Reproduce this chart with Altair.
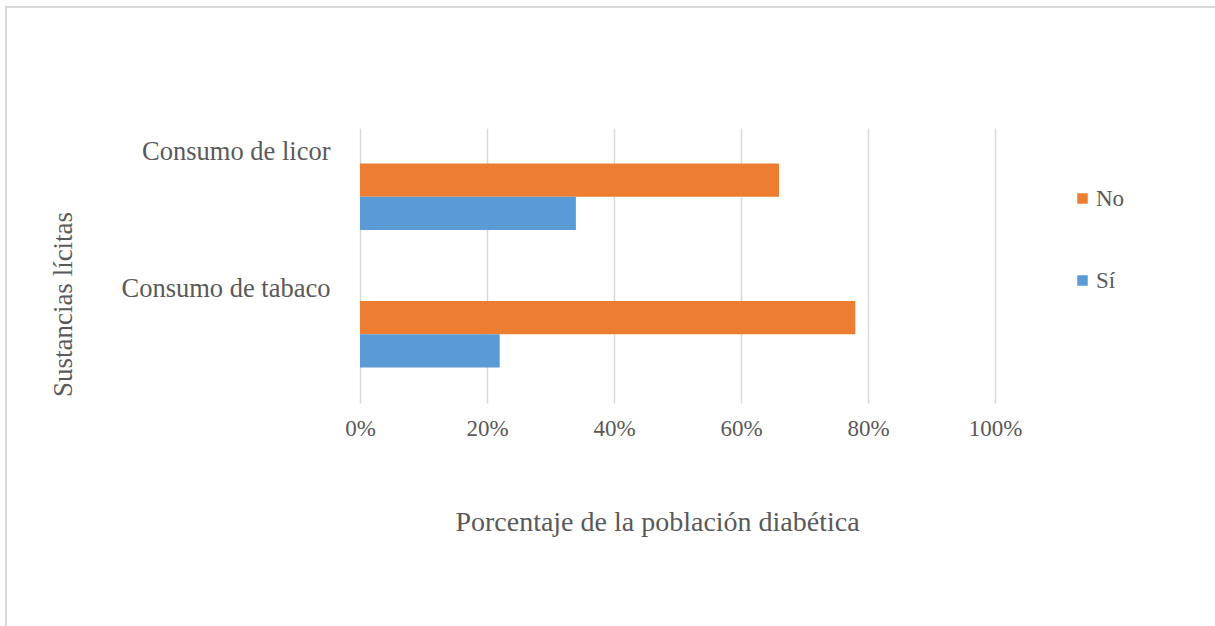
import altair as alt
import pandas as pd

# Consumo de sustancias lícitas en la población diabética
categorias = ["Consumo de licor", "Consumo de tabaco"]
respuestas = ["No", "Sí"]
valores_no = [0.66, 0.78]
valores_si = [0.34, 0.22]

colores = ["#ED7D31", "#5B9BD5"]
fuente = "'Liberation Serif', 'Times New Roman', serif"
gris_texto = "#595959"

filas = []
for cat, vn, vs in zip(categorias, valores_no, valores_si):
    filas.append({"categoria": cat, "respuesta": "No", "valor": vn})
    filas.append({"categoria": cat, "respuesta": "Sí", "valor": vs})
df = pd.DataFrame(filas)

W, H = 635, 275
PAD_L, PAD_T = 360, 128

barras = alt.Chart(df).mark_bar().encode(
    x=alt.X(
        "valor:Q",
        scale=alt.Scale(domain=[0, 1], nice=False, zero=True),
        axis=alt.Axis(
            title="Porcentaje de la población diabética",
            format=".0%",
            values=[0, 0.2, 0.4, 0.6, 0.8, 1.0],
            grid=True,
            gridColor="#d9d9d9",
            gridWidth=1.5,
            domain=False,
            ticks=False,
            labelFlush=False,
            labelFont=fuente,
            labelFontSize=23,
            labelColor=gris_texto,
            labelPadding=14,
            titleFont=fuente,
            titleFontSize=28,
            titleFontWeight="normal",
            titleColor=gris_texto,
            titleX=297,
            titleY=127,
            titleBaseline="alphabetic",
        ),
    ),
    y=alt.Y(
        "categoria:N",
        sort=categorias,
        scale=alt.Scale(paddingInner=0.515, paddingOuter=0.2575),
        axis=alt.Axis(
            title="Sustancias lícitas",
            domain=False,
            ticks=False,
            grid=False,
            labelFont=fuente,
            labelFontSize=26.5,
            labelColor=gris_texto,
            labelPadding=30,
            labelOffset=-45,
            labelLimit=400,
            titleFont=fuente,
            titleFontSize=27,
            titleFontWeight="normal",
            titleColor=gris_texto,
            titleAngle=270,
            titleAlign="center",
            titleBaseline="middle",
            titleX=-297,
            titleY=176,
        ),
    ),
    yOffset=alt.YOffset(
        "respuesta:N",
        sort=respuestas,
        scale=alt.Scale(paddingInner=0, paddingOuter=0),
    ),
    color=alt.Color(
        "respuesta:N",
        sort=respuestas,
        scale=alt.Scale(domain=respuestas, range=colores),
        legend=alt.Legend(
            title=None,
            orient="none",
            legendX=711,
            legendY=59,
            symbolType="square",
            symbolSize=110,
            symbolStrokeWidth=0,
            labelFont=fuente,
            labelFontSize=23,
            labelColor=gris_texto,
            labelOffset=2,
            rowPadding=58,
        ),
    ),
)

# Marco exterior gris (bordes superior e izquierdo)
borde_sup = alt.Chart(df).mark_rule(color="#d9d9d9", strokeWidth=2).encode(
    x=alt.value(-354), x2=alt.value(855), y=alt.value(-121)
)
borde_izq = alt.Chart(df).mark_rule(color="#d9d9d9", strokeWidth=2).encode(
    x=alt.value(-354), y=alt.value(-122), y2=alt.value(498)
)

chart = alt.layer(barras, borde_sup, borde_izq).properties(
    width=W,
    height=H,
    autosize=alt.AutoSizeParams(type="none"),
    padding={"left": PAD_L, "top": PAD_T, "right": 1215 - PAD_L - W, "bottom": 626 - PAD_T - H},
    background="white",
).configure_view(stroke=None)

chart.save("out.html", embed_options={"renderer": "svg", "actions": False})
